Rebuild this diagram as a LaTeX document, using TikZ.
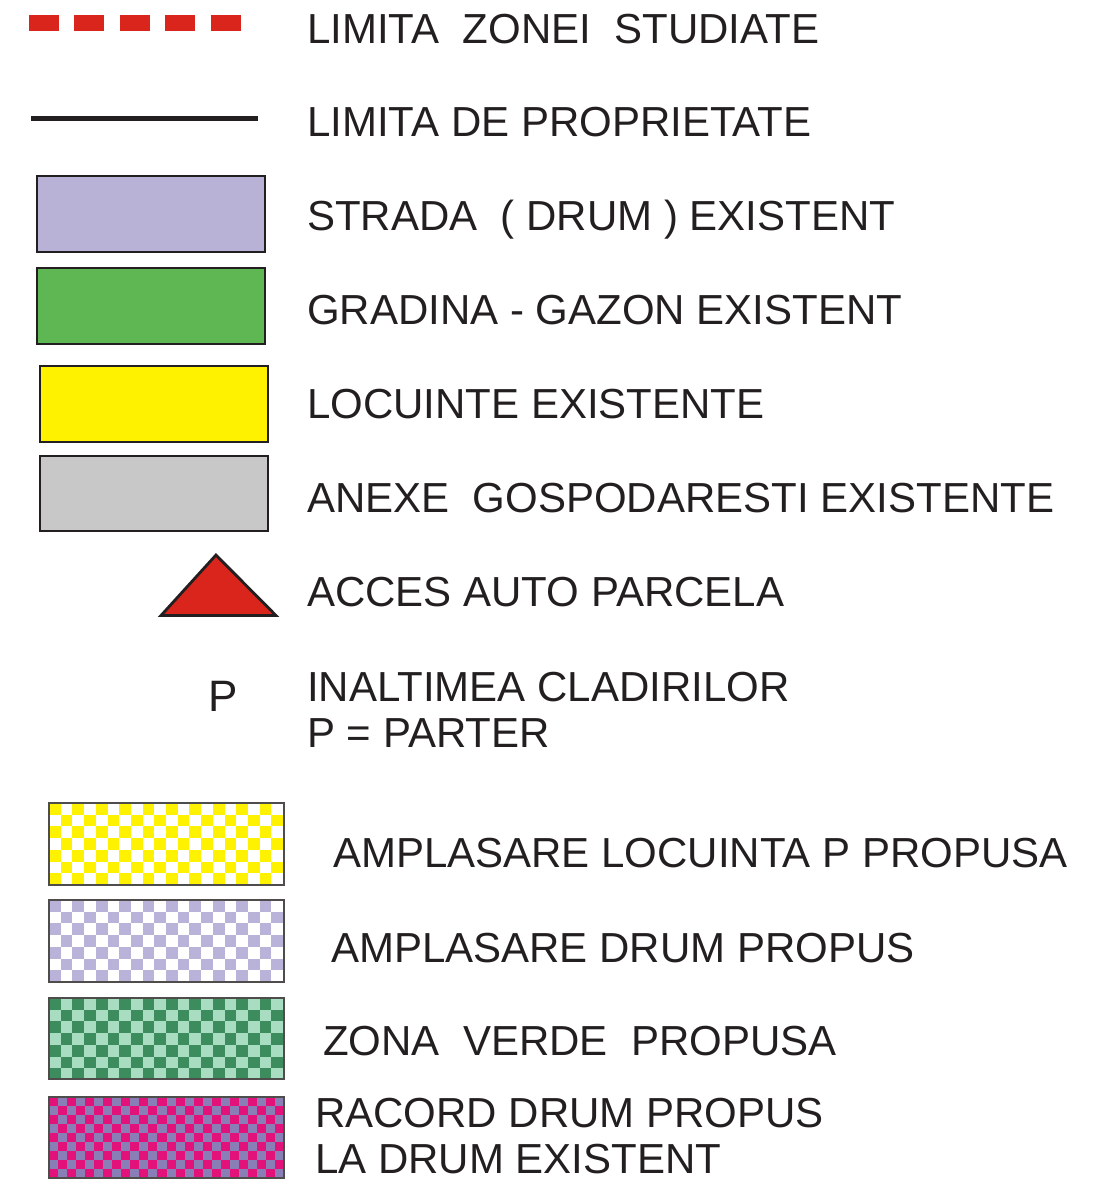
\documentclass[tikz,border=0pt]{standalone}
\usepackage{fontspec}
\setmainfont{Liberation Sans}
\usepackage{tikz}
\usetikzlibrary{calc}
\definecolor{inkc}{HTML}{231F20}
\definecolor{redc}{HTML}{DA251D}
\definecolor{stradac}{HTML}{B8B2D7}
\definecolor{gazonc}{HTML}{5EB752}
\definecolor{locc}{HTML}{FFF200}
\definecolor{anexc}{HTML}{C8C8C9}
\definecolor{violc}{HTML}{B9B3DA}
\definecolor{vdark}{HTML}{3D8C5E}
\definecolor{vlight}{HTML}{A9DDC1}
\definecolor{magc}{HTML}{E3127B}
\definecolor{greyvc}{HTML}{8A7EB6}
\newcommand{\legbox}[5]{\filldraw[#5, draw=inkc, line width=2.6pt] ( #1 , #2 ) rectangle ( #3 , #4 );}
\newcommand{\checker}[7]{\begin{scope}
  \clip ( #1 , #2 ) rectangle ( #3 , #4 );
  \fill[#7] ( #1 , #2 ) rectangle ( #3 , #4 );
  \foreach \i in {0,...,26} {\foreach \j in {0,...,9} {
    \pgfmathtruncatemacro{\cellodd}{mod(\i+\j,2)}
    \ifnum\cellodd=0 \fill[#6] ({#1+\i*#5},{#2+\j*#5}) rectangle ++(#5,#5); \fi}}
  \end{scope}
  \draw[inkc!80, line width=1.6pt] ( #1 , #2 ) rectangle ( #3 , #4 );}
\tikzset{lbl/.style={anchor=base west, inner sep=0pt, text=inkc, align=left,
  font=\fontsize{42}{46}\selectfont}}

\begin{document}
\begin{tikzpicture}[x=1pt, y=-1pt]
        \useasboundingbox (0,0) rectangle (1096,1179);
        % item 1
        \draw[redc, line width=16pt, dash pattern=on 30pt off 15.4pt] (29,23) -- (241,23);
        \node[lbl] (zona) at (307,43) {LIMITA~~ZONEI~~STUDIATE};
        % item 2
        \draw[inkc, line width=5pt] (31,118.5) -- (258,118.5);
        \node[lbl] (propr) at (307,136) {LIMITA DE PROPRIETATE};
        % item 3
        \legbox{37}{176}{265}{252}{stradac}
        \node[lbl] (strada) at (307,230) {STRADA~~(~DRUM~)~EXISTENT};
        % item 4
        \legbox{37}{268}{265}{344}{gazonc}
        \node[lbl] (gradina) at (307,324) {GRADINA - GAZON EXISTENT};
        % item 5
        \legbox{40}{366}{268}{442}{locc}
        \node[lbl] (locuinte) at (307,418) {LOCUINTE EXISTENTE};
        % item 6
        \legbox{40}{456}{268}{531}{anexc}
        \node[lbl] (anexe) at (307,512) {ANEXE~~GOSPODARESTI EXISTENTE};
        % item 7
        \filldraw[redc, draw=inkc, line width=2.8pt, line join=miter] (161,615.5) -- (216,555) -- (276,615.5) -- cycle;
        \node[lbl] (acces) at (307,606) {ACCES AUTO PARCELA};
        % item 8
        \node[lbl, font=\fontsize{44}{46}\selectfont] (pmark) at (208,711) {P};
        \node[lbl] (inalt) at (307,747) {INALTIMEA CLADIRILOR\\P = PARTER};
        % item 9
        \checker{49}{803}{284}{885}{11.7}{locc}{white}
        \node[lbl] (locprop) at (333,867) {AMPLASARE LOCUINTA P PROPUSA};
        % item 10
        \checker{49}{900}{284}{982}{11.7}{violc}{white}
        \node[lbl] (drumprop) at (331,962) {AMPLASARE DRUM PROPUS};
        % item 11
        \checker{49}{998}{284}{1079}{11.7}{vdark}{vlight}
        \node[lbl] (verde) at (323,1055) {ZONA~~VERDE~~PROPUSA};
        % item 12
        \checker{49}{1097}{284}{1178}{9.04}{magc}{greyvc}
        \node[lbl] (racord) at (315,1173) {RACORD DRUM PROPUS\\LA DRUM EXISTENT};
    \end{tikzpicture}
\end{document}
